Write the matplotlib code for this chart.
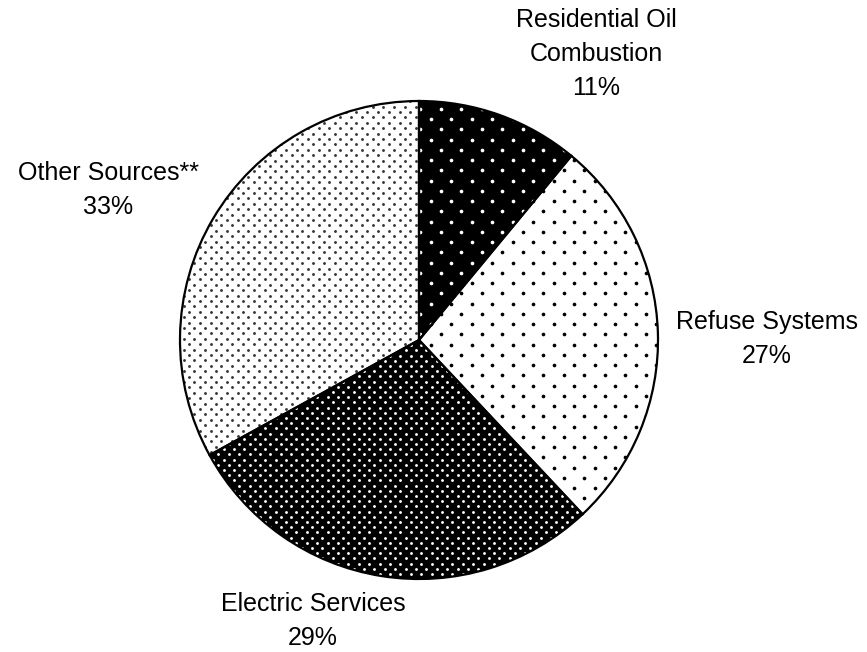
import matplotlib
matplotlib.use("Agg")
import matplotlib.pyplot as plt
import numpy as np

# shares of emissions by source (percent)
labels = ["Residential Oil\nCombustion", "Refuse Systems", "Electric Services", "Other Sources**"]
shares = [11, 27, 29, 33]

# fill colour, dot colour and dot spacing (px) for each slice
faces = ["black", "white", "black", "white"]
dot_colors = ["white", "black", "white", "#333333"]
dot_step = [20.5, 20.5, 10.4, 10.8]
dot_size = [7.0, 7.0, 4.2, 4.2]

# where the labels sit (figure pixels, y from bottom)
label_xy = [(596, 598), (767, 313), (313, 31), (108, 462)]

plt.rcParams["font.family"] = ["Liberation Sans", "DejaVu Sans"]

W, H = 867, 652
fig = plt.figure(figsize=(W / 100, H / 100), dpi=100)
ax = fig.add_axes([0, 0, 1, 1])

center = (419, 312)
radius = 239

wedges, _ = ax.pie(shares, startangle=90, counterclock=False,
                   center=center, radius=radius, frame=True,
                   wedgeprops=dict(linewidth=0))


def dot_grid(step):
    # staggered lattice: rows step/2 apart, every other row shifted half a step
    ys = np.arange(0, H, step / 2)
    px, py = [], []
    for i, y in enumerate(ys):
        xs = np.arange(0, W, step) + (step / 2 if i % 2 else 0)
        px.append(xs)
        py.append(np.full_like(xs, y))
    return np.concatenate(px), np.concatenate(py)


for w, fc, dc, st, sz in zip(wedges, faces, dot_colors, dot_step, dot_size):
    w.set_facecolor(fc)
    gx, gy = dot_grid(st)
    sc = ax.scatter(gx, gy, s=sz, color=dc, linewidths=0, zorder=2)
    sc.set_clip_path(w)

# outlines on top
ax.pie(shares, startangle=90, counterclock=False, center=center,
       radius=radius, frame=True,
       wedgeprops=dict(fill=False, edgecolor="black", linewidth=1.6, zorder=3))

ax.set_xlim(0, W)
ax.set_ylim(0, H)
ax.axis("off")

for lab, val, (x, y) in zip(labels, shares, label_xy):
    ax.text(x, y, f"{lab}\n{val}%", ha="center", va="center",
            multialignment="center", fontsize=18, linespacing=1.52)

fig.savefig("out.png", dpi=100)
